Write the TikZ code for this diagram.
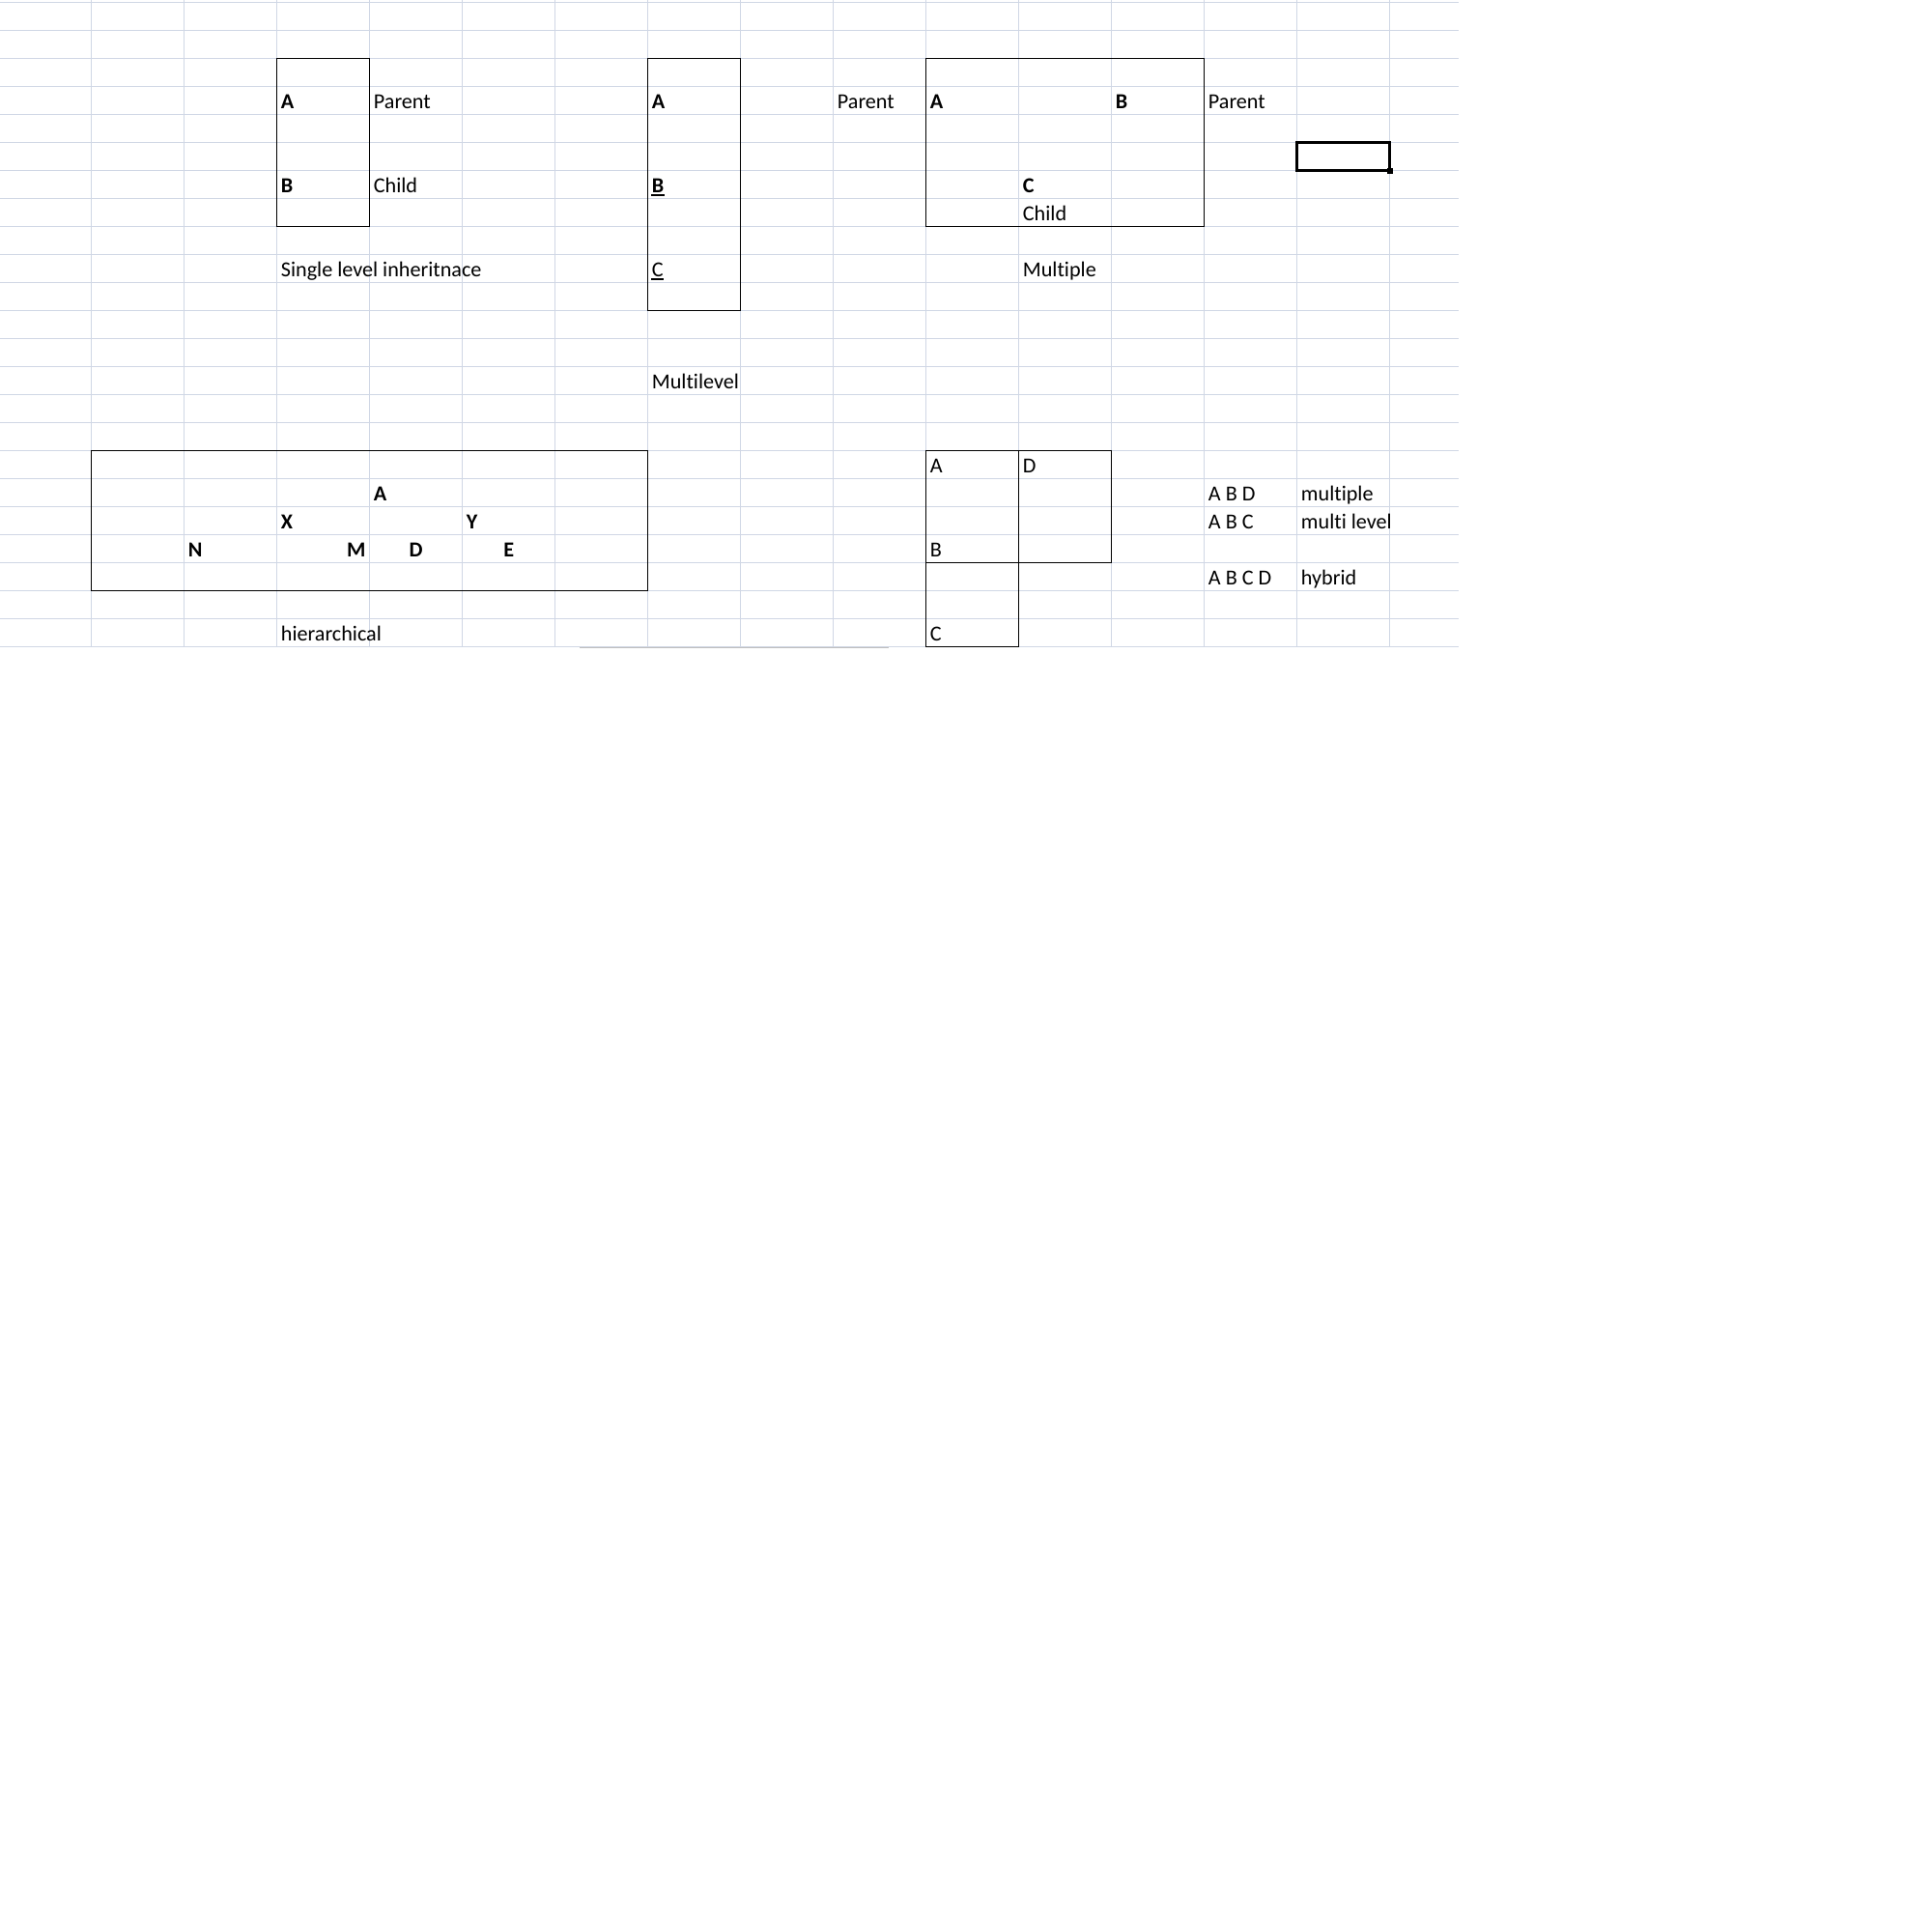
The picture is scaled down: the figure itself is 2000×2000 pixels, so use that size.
\documentclass[tikz,border=0pt]{standalone}
\usepackage{fontspec}
\setmainfont{Carlito}[RawFeature={-liga;-clig;-calt;-dlig}]
\usepackage{xcolor}
\usepackage{tikz}
\usetikzlibrary{positioning}

\definecolor{gridblue}{RGB}{208,215,229}

\begin{document}
\begin{tikzpicture}[
            x=0.01cm, y=-0.01cm,
            gridline/.style={draw=gridblue, line width=0.01cm},
            frame/.style={draw=black, line width=0.012cm},
            selcell/.style={draw=black, line width=0.026cm},
            uline/.style={draw=black, line width=0.013cm},
            cell/.style={anchor=base west, inner sep=0, font=\fontsize{6.3pt}{7pt}\selectfont},
            bcell/.style={cell, font=\fontsize{6.3pt}{7pt}\selectfont\bfseries},
          ]
          \useasboundingbox (0,0) rectangle (2000,2000);
          \fill[white] (0,0) rectangle (2000,2000);

          % --- sheet grid ---
          \foreach \gx in {94.7,190.7,...,1440}
            \draw[gridline] (\gx,0) -- (\gx,669.7);
          \foreach \gy in {2.7,31.7,...,670}
            \draw[gridline] (0,\gy) -- (1510,\gy);
          \draw[black!25, line width=0.015cm] (600,670.4) -- (920,670.4);

          % --- single level ---
          \draw[frame] (286.7,60.7) rectangle (382.7,234.7);
          \node[bcell] (sA) at (290.2,112.7) {A};
          \node[cell] (sPar) at (386.2,112.7) {Parent};
          \node[bcell] (sB) at (290.2,199.7) {B};
          \node[cell] (sChild) at (386.2,199.7) {Child};
          \node[cell] (sCap) at (290.2,286.7) {Single level inheritnace};

          % --- multilevel ---
          \draw[frame] (670.7,60.7) rectangle (766.7,321.7);
          \node[bcell] (mA) at (674.2,112.7) {A};
          \node[bcell] (mB) at (674.2,199.7) {B};
          \node[cell] (mC) at (674.2,286.7) {C};
          \draw[uline] ([yshift=-0.022cm]mB.base west) -- ([yshift=-0.022cm]mB.base east);
          \draw[uline] ([yshift=-0.022cm]mC.base west) -- ([yshift=-0.022cm]mC.base east);
          \node[cell] (mPar) at (866.2,112.7) {Parent};
          \node[cell] (mCap) at (674.2,402.7) {Multilevel};

          % --- multiple ---
          \draw[frame] (958.7,60.7) rectangle (1246.7,234.7);
          \node[bcell] (pA) at (962.2,112.7) {A};
          \node[bcell] (pB) at (1154.2,112.7) {B};
          \node[bcell] (pC) at (1058.2,199.7) {C};
          \node[cell] (pChild) at (1058.2,228.7) {Child};
          \node[cell] (pPar) at (1250.2,112.7) {Parent};
          \node[cell] (pCap) at (1058.2,286.7) {Multiple};

          % --- active cell ---
          \draw[selcell] (1342.7,147.7) rectangle (1438.7,176.7);
          \fill[black] (1436.2,174.2) rectangle (1442.2,180.2);

          % --- hierarchical ---
          \draw[frame] (94.7,466.7) rectangle (670.7,611.7);
          \node[bcell] (hA) at (386.2,518.7) {A};
          \node[bcell] (hX) at (290.2,547.7) {X};
          \node[bcell] (hY) at (482.2,547.7) {Y};
          \node[bcell] (hN) at (194.2,576.7) {N};
          \node[bcell, anchor=base east] (hM) at (379.2,576.7) {M};
          \node[bcell, anchor=base] (hD) at (430.7,576.7) {D};
          \node[bcell, anchor=base] (hE) at (526.7,576.7) {E};
          \node[cell] (hCap) at (290.2,663.7) {hierarchical};

          % --- hybrid ---
          \draw[frame] (958.7,466.7) rectangle (1150.7,582.7);
          \draw[frame] (1054.7,466.7) -- (1054.7,582.7);
          \draw[frame] (958.7,582.7) rectangle (1054.7,669.7);
          \node[cell] (yA) at (962.2,489.7) {A};
          \node[cell] (yD) at (1058.2,489.7) {D};
          \node[cell] (yB) at (962.2,576.7) {B};
          \node[cell] (yC) at (962.2,663.7) {C};

          % --- summary ---
          \node[cell] (lMul) at (1250.2,518.7) {A B D};
          \node[cell] (lMulT) at (1346.2,518.7) {multiple};
          \node[cell] (lLev) at (1250.2,547.7) {A B C};
          \node[cell] (lLevT) at (1346.2,547.7) {multi level};
          \node[cell] (lHyb) at (1250.2,605.7) {A B C D};
          \node[cell] (lHybT) at (1346.2,605.7) {hybrid};
        \end{tikzpicture}
\end{document}
